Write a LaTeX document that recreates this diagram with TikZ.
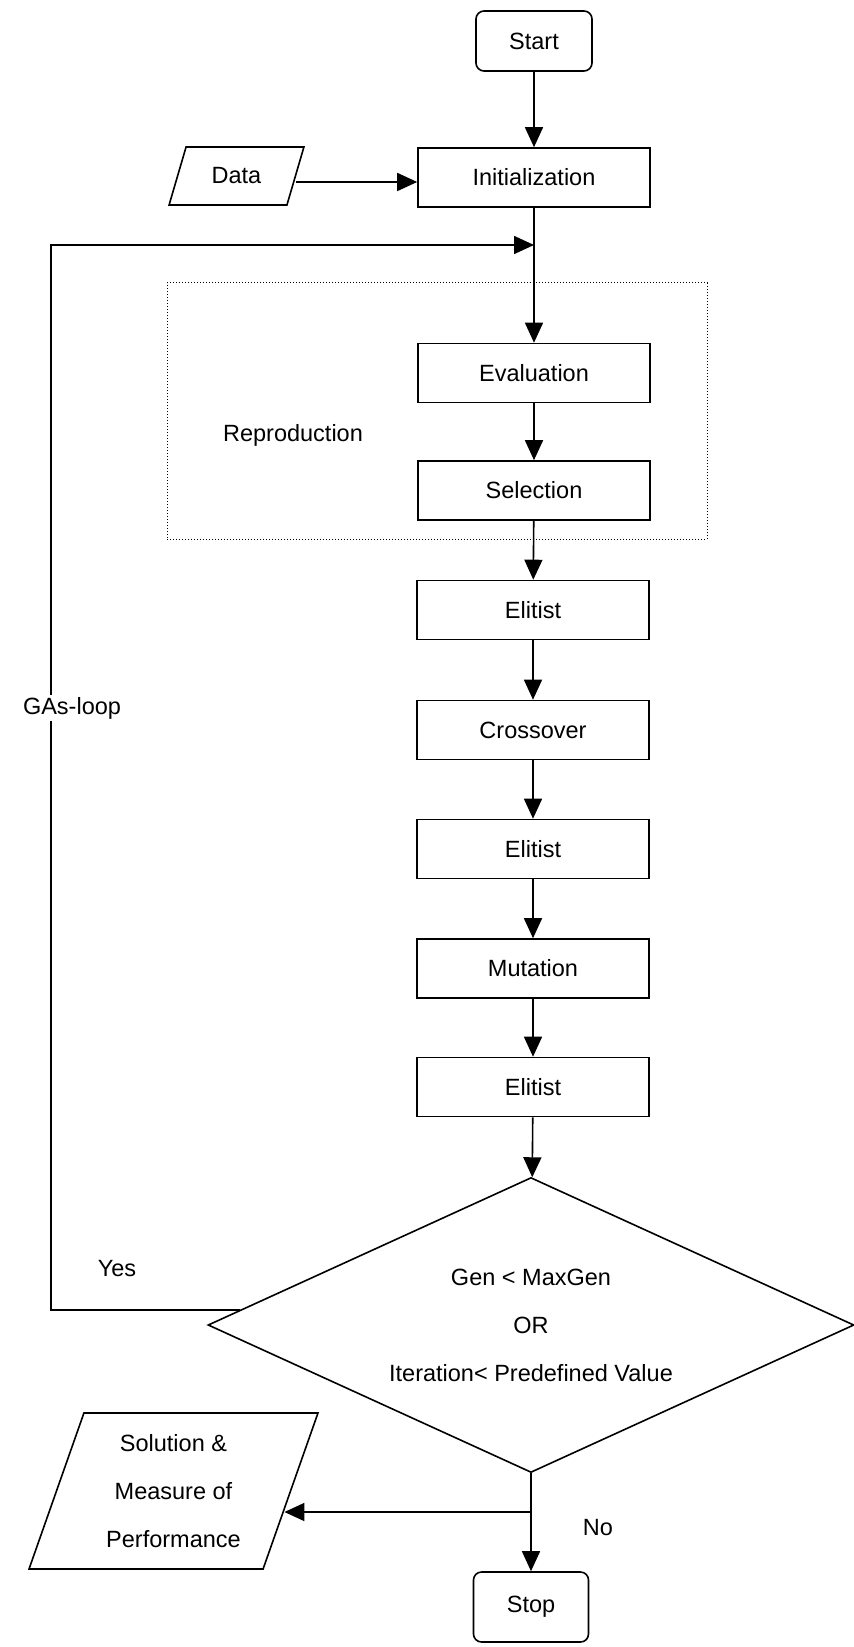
\documentclass[tikz,border=0pt]{standalone}
\usepackage{fontspec}
\setmainfont{Liberation Sans}
\usetikzlibrary{arrows.meta,shapes.geometric,calc}
\begin{document}
\begin{tikzpicture}[x=0.5pt,y=-0.5pt,
  every node/.style={font=\fontsize{11.75}{24}\selectfont},
  line/.style={line width=0.8pt},
  arr/.style={line width=0.8pt,-{Triangle[length=10pt,width=9pt]}},
  procbox/.style={draw,line width=0.8pt,minimum width=116pt,minimum height=29.5pt,inner sep=0pt},
  termbox/.style={draw,line width=0.8pt,rounded corners=4pt,inner sep=0pt},
  iobox/.style={draw,line width=0.8pt,trapezium,trapezium stretches=true,inner sep=0pt},
  lbl/.style={inner sep=1pt}
]
\useasboundingbox (0,0) rectangle (853,1647);
\node[termbox,minimum width=58pt,minimum height=30pt] (start) at (534,41) {Start};
\node[procbox] (init) at (534,177.5) {Initialization};
\node[iobox, trapezium left angle=63, trapezium right angle=117, minimum width=67.5pt, minimum height=29pt] (data) at (236.5,176) {Data};
\node[draw, densely dotted, line width=0.5pt, minimum width=270pt, minimum height=128pt, inner sep=0pt] (repbox) at (437,411) {};
\node[lbl] (repro) at (293,435) {Reproduction};
\node[procbox] (eval) at (534,373) {Evaluation};
\node[procbox] (sel) at (534,490.5) {Selection};
\node[procbox] (eli1) at (533,610) {Elitist};
\node[procbox] (cross) at (533,730) {Crossover};
\node[procbox] (eli2) at (533,849) {Elitist};
\node[procbox] (mut) at (533,968.5) {Mutation};
\node[procbox] (eli3) at (533,1087) {Elitist};
\node[draw,line width=0.8pt,diamond,aspect=2.2,minimum width=323pt,minimum height=147.5pt,inner sep=0pt,align=center] (dec) at (531,1325) {Gen < MaxGen\\OR\\Iteration< Predefined Value};
\node[termbox,minimum width=57.5pt,minimum height=35pt] (stop) at (531,1607) {Stop};
\node[iobox, trapezium left angle=70, trapezium right angle=110, minimum width=144.5pt, minimum height=78pt, align=center] (sol) at (173.5,1491) {Solution \&\\Measure of\\Performance};
\coordinate (loopc) at (51,245);
\coordinate (loopend) at (534,245);
\coordinate (j) at (531,1512);

\draw[arr] (start) -- (init);
\draw[arr] ([yshift=-3pt]data.east) -- ([yshift=-3pt]data.east -| init.west);
\draw[arr] (init) -- (eval);
\draw[arr] (eval) -- (sel);
\draw[arr] (sel) -- (eli1);
\draw[arr] (eli1) -- (cross);
\draw[arr] (cross) -- (eli2);
\draw[arr] (eli2) -- (mut);
\draw[arr] (mut) -- (eli3);
\draw[arr] (eli3) -- (dec);
\draw[arr] (dec.south) -- (stop.north);
\draw[arr] (j) -- ($(j -| sol.east)+(-7,0)$);
\draw[arr] (dec.177.5) -| (loopc) -- (loopend);

\node[lbl, fill=white] (gas) at (72,708) {GAs-loop};
\node[lbl] (yes) at (117,1269) {Yes};
\node[lbl] (no) at (598,1528) {No};
\end{tikzpicture}
\end{document}
